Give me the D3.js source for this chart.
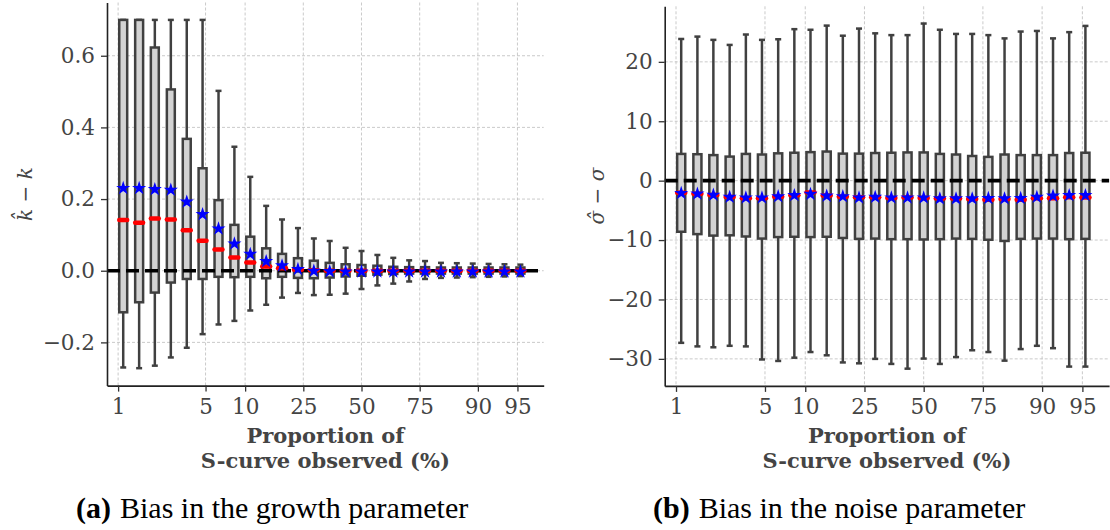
<!DOCTYPE html>
<html><head><meta charset="utf-8">
<script src="https://cdn.jsdelivr.net/npm/d3@7"></script>
<style>body{margin:0;background:#fff}</style>
</head><body>
<svg id="chart" width="1110" height="530"></svg>
<script>
// ---- data ----
const proportions = [1.10, 1.48, 1.98, 2.66, 3.56, 4.74, 6.30, 8.32, 10.91, 14.19, 18.24, 23.15, 28.91,
  35.43, 42.56, 50.00, 57.44, 64.57, 71.09, 76.85, 81.76, 85.81, 89.09, 91.68, 93.70, 95.26];
const tickProportions = [1, 5, 10, 25, 50, 75, 90, 95];
const tickLabels = ["1", "5", "10", "25", "50", "75", "90", "95"];

// growth parameter bias (k-hat - k)
const kWhiskerHigh = [0.70, 0.70, 0.70, 0.70, 0.70, 0.70, 0.502, 0.346, 0.262, 0.181, 0.143, 0.119, 0.090,
  0.083, 0.064, 0.055, 0.044, 0.036, 0.029, 0.027, 0.022, 0.021, 0.020, 0.019, 0.018, 0.017];
const kQ3 = [0.70, 0.70, 0.623, 0.506, 0.368, 0.286, 0.197, 0.128, 0.095, 0.0625, 0.047, 0.035, 0.028,
  0.022, 0.018, 0.016, 0.014, 0.011, 0.010, 0.010, 0.009, 0.009, 0.009, 0.009, 0.009, 0.009];
const kMedian = [0.1415, 0.134, 0.146, 0.143, 0.113, 0.084, 0.059, 0.037, 0.023, 0.012, 0.007, 0.003, 0.001,
  0, 0, 0, 0, 0, 0, 0, 0, 0, 0, 0, 0, 0];
const kQ1 = [-0.116, -0.088, -0.061, -0.033, -0.023, -0.023, -0.017, -0.018, -0.017, -0.021, -0.017, -0.020, -0.021,
  -0.019, -0.016, -0.014, -0.011, -0.009, -0.008, -0.008, -0.008, -0.008, -0.008, -0.008, -0.008, -0.008];
const kWhiskerLow = [-0.270, -0.272, -0.265, -0.242, -0.215, -0.177, -0.150, -0.140, -0.111, -0.095, -0.075, -0.062, -0.068,
  -0.067, -0.064, -0.051, -0.041, -0.036, -0.030, -0.023, -0.020, -0.019, -0.018, -0.017, -0.016, -0.015];
const kMean = [0.233, 0.233, 0.230, 0.228, 0.195, 0.160, 0.120, 0.078, 0.049, 0.029, 0.017, 0.007, 0.002,
  0.001, 0, 0, 0, 0, 0, 0, 0, 0, 0, 0, 0, 0];
const kTicks = [-0.2, 0.0, 0.2, 0.4, 0.6];

// noise parameter bias (sigma-hat - sigma)
const sWhiskerHigh = [23.85, 24.25, 23.7, 22.85, 24.6, 23.7, 23.8, 25.5, 25.4, 26.1, 24.4, 25.6, 24.8,
  24.5, 24.5, 26.45, 25.4, 24.7, 24.7, 24.5, 23.95, 25.1, 25.2, 23.95, 25.0, 26.05];
const sQ3 = [4.5, 4.45, 4.3, 4.05, 4.5, 4.4, 4.6, 4.7, 4.8, 4.9, 4.55, 4.55, 4.65,
  4.7, 4.75, 4.75, 4.5, 4.4, 4.15, 4.0, 4.4, 4.3, 4.3, 4.3, 4.65, 4.7];
const sMedian = [-2.05, -2.2, -2.4, -2.75, -2.95, -2.95, -2.7, -2.45, -2.0, -2.5, -2.7, -2.8, -2.8,
  -2.9, -2.85, -2.9, -3.0, -3.0, -3.1, -3.2, -3.1, -3.2, -2.95, -2.95, -2.8, -2.85];
const sQ1 = [-8.6, -9.0, -9.25, -9.2, -9.4, -9.75, -9.5, -9.45, -9.5, -9.45, -9.65, -9.8, -9.75,
  -9.85, -9.85, -9.9, -9.85, -9.75, -9.8, -9.95, -10.15, -9.8, -9.75, -9.75, -9.85, -9.8];
const sWhiskerLow = [-27.3, -27.9, -28.05, -27.8, -27.9, -30.1, -30.35, -29.8, -28.85, -29.4, -30.6, -30.75, -30.0,
  -30.85, -31.65, -29.95, -30.85, -29.7, -28.55, -28.85, -30.3, -28.35, -27.8, -28.2, -31.3, -31.3];
const sMean = [-1.95, -2.05, -2.25, -2.6, -2.7, -2.7, -2.5, -2.3, -2.1, -2.4, -2.5, -2.7, -2.6,
  -2.7, -2.7, -2.7, -2.85, -2.85, -2.85, -2.8, -2.85, -2.8, -2.6, -2.4, -2.3, -2.3];
const sTicks = [-30, -20, -10, 0, 10, 20];

// ---- drawing ----
const svg = d3.select("#chart");
const logit = p => Math.log(p / (100 - p));
const SERIF = "'DejaVu Serif', serif";
const TXT = "#444444";
const EDGE = "#404040";

function panel(o) {
  const g = svg.append("g");
  const x = d3.scaleLinear().domain([-4.805, 3.44]).range([o.x0, o.x1]);
  const y = d3.scaleLinear().domain(o.yDomain).range([o.yBot, o.yTop]);
  const rows = proportions.map((p, i) => ({
    l: logit(p), lo: o.low[i], q1: o.q1[i], med: o.med[i], q3: o.q3[i], hi: o.high[i], mean: o.mean[i]
  }));
  const hw = 0.075; // half box width in logit units

  // grid
  const grid = g.append("g").attr("stroke", "#bdbdbd").attr("stroke-width", 0.8)
    .attr("stroke-dasharray", "3,2").attr("fill", "none");
  grid.selectAll("line.h").data(o.yTicks).join("line")
    .attr("x1", o.x0).attr("x2", o.x1).attr("y1", d => y(d)).attr("y2", d => y(d));
  grid.selectAll("line.v").data(tickProportions).join("line")
    .attr("x1", d => x(logit(d))).attr("x2", d => x(logit(d))).attr("y1", o.yTop).attr("y2", o.yBot);

  // boxes
  const bx = g.append("g").attr("stroke", EDGE).attr("stroke-width", 2.5);
  const b = bx.selectAll("g").data(rows).join("g");
  b.append("line").attr("x1", d => x(d.l)).attr("x2", d => x(d.l))
    .attr("y1", d => y(d.q3)).attr("y2", d => y(d.hi));
  b.append("line").attr("x1", d => x(d.l)).attr("x2", d => x(d.l))
    .attr("y1", d => y(d.q1)).attr("y2", d => y(d.lo));
  b.append("line").attr("x1", d => x(d.l - hw / 2) - 1).attr("x2", d => x(d.l + hw / 2) + 1)
    .attr("y1", d => y(d.hi)).attr("y2", d => y(d.hi));
  b.append("line").attr("x1", d => x(d.l - hw / 2) - 1).attr("x2", d => x(d.l + hw / 2) + 1)
    .attr("y1", d => y(d.lo)).attr("y2", d => y(d.lo));
  b.append("rect").attr("fill", "#d3d3d3")
    .attr("x", d => x(d.l - hw)).attr("width", d => x(d.l + hw) - x(d.l - hw))
    .attr("y", d => y(d.q3)).attr("height", d => y(d.q1) - y(d.q3));

  // zero reference line
  g.append("line").attr("x1", o.x0).attr("x2", o.x1).attr("y1", y(0)).attr("y2", y(0))
    .attr("stroke", "#000").attr("stroke-width", 3.7).attr("stroke-dasharray", "13,6");

  // medians
  g.append("g").selectAll("line").data(rows).join("line")
    .attr("x1", d => x(d.l - hw)).attr("x2", d => x(d.l + hw))
    .attr("y1", d => y(d.med)).attr("y2", d => y(d.med))
    .attr("stroke", "#ff0000").attr("stroke-width", 4.5).attr("stroke-linecap", "round");

  // means
  g.append("g").selectAll("path").data(rows).join("path")
    .attr("d", d3.symbol(d3.symbolStar, 62))
    .attr("transform", d => `translate(${x(d.l)},${y(d.mean) + 1})`)
    .attr("fill", "#0000ff");

  // axes
  const ax = g.append("g").attr("transform", `translate(${o.x0},0)`)
    .call(d3.axisLeft(y).tickValues(o.yTicks).tickFormat(o.fmt).tickSize(6).tickPadding(6).tickSizeOuter(0));
  const bxAxis = g.append("g").attr("transform", `translate(0,${o.yBot})`)
    .call(d3.axisBottom(x).tickValues(tickProportions.map(logit)).tickFormat((d, i) => tickLabels[i])
      .tickSize(6).tickPadding(7).tickSizeOuter(0));
  [ax, bxAxis].forEach(a => {
    a.select(".domain").attr("stroke", "#222").attr("stroke-width", 1.6);
    a.selectAll(".tick line").attr("stroke", "#333").attr("stroke-width", 1.3);
    a.selectAll("text").attr("font-family", SERIF).attr("font-size", 21.5).attr("fill", TXT);
  });

  // x label
  const cx = (o.x0 + o.x1) / 2;
  const xl = g.append("text").attr("text-anchor", "middle").attr("font-family", SERIF)
    .attr("font-weight", "bold").attr("font-size", 21).attr("fill", TXT);
  xl.append("tspan").attr("x", cx).attr("y", 443).text("Proportion of");
  xl.append("tspan").attr("x", cx).attr("y", 467.5).text("S-curve observed (%)");

  // y label
  g.append("text").attr("transform", `translate(${o.ylx},${(o.yTop + o.yBot) / 2}) rotate(-90)`)
    .attr("text-anchor", "middle").attr("dominant-baseline", "central")
    .attr("font-family", SERIF).attr("font-style", "italic").attr("font-size", 20).attr("fill", TXT)
    .text(o.ylabel);

  // caption
  const cap = svg.append("text").attr("x", o.capX).attr("y", 518)
    .attr("font-family", "'Liberation Serif', 'Times New Roman', serif").attr("font-size", 30).attr("fill", "#000");
  cap.append("tspan").attr("font-weight", "bold").text(o.capTag);
  cap.append("tspan").attr("dx", 9).text(o.capText);
}

panel({
  x0: 107, x1: 543.7, yTop: 2.5, yBot: 385.6, yDomain: [-0.3206, 0.7486],
  low: kWhiskerLow, q1: kQ1, med: kMedian, q3: kQ3, high: kWhiskerHigh, mean: kMean,
  yTicks: kTicks, fmt: d3.format(".1f"), ylx: 25, ylabel: "k\u0302 \u2212 k",
  capX: 76, capTag: "(a)", capText: "Bias in the growth parameter"
});
panel({
  x0: 664.7, x1: 1109.1, yTop: 6.3, yBot: 385.9, yDomain: [-34.55, 29.35],
  low: sWhiskerLow, q1: sQ1, med: sMedian, q3: sQ3, high: sWhiskerHigh, mean: sMean,
  yTicks: sTicks, fmt: d3.format("d"), ylx: 597, ylabel: "\u03c3\u0302 \u2212 \u03c3",
  capX: 653, capTag: "(b)", capText: "Bias in the noise parameter"
});
</script>
</body></html>
